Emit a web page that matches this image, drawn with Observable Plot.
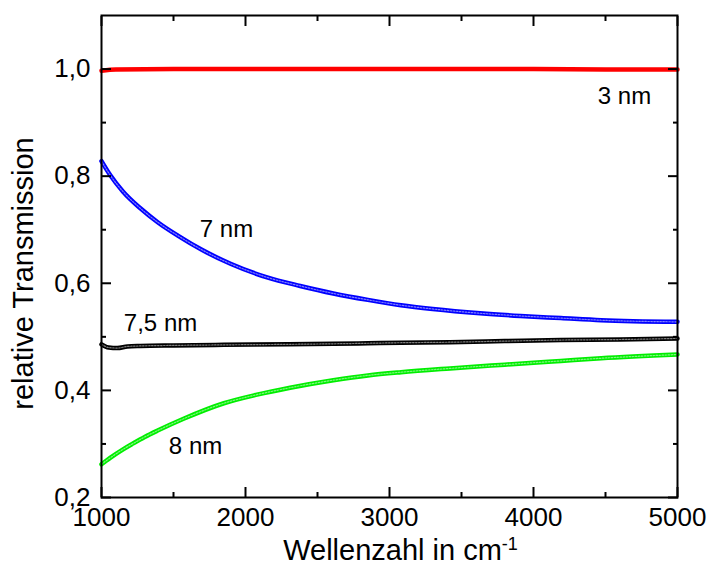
<!DOCTYPE html>
<html><head><meta charset="utf-8">
<script src="https://cdn.jsdelivr.net/npm/d3@7"></script>
<script src="https://cdn.jsdelivr.net/npm/@observablehq/plot@0.6"></script>
<style>body{margin:0;background:#fff} svg{display:block}</style>
</head><body><div id="chart"></div>
<script>
// Series: relative transmission vs wavenumber (cm^-1)
const w3 = [1000, 1100, 1500, 2000, 3000, 4000, 4500, 5000];
const t3 = [0.997, 0.999, 1.000, 1.000, 1.000, 1.000, 0.999, 0.999];

const w7 = [1000, 1060, 1150, 1270, 1390, 1530, 1700, 1900, 2150, 2380, 2610, 2850, 3080, 3300, 3630, 3910, 4190, 4470, 5000];
const t7 = [0.828, 0.802, 0.771, 0.740, 0.714, 0.689, 0.662, 0.636, 0.611, 0.595, 0.581, 0.569, 0.559, 0.552, 0.544, 0.539, 0.535, 0.531, 0.528];

const w75 = [1000, 1050, 1110, 1180, 1270, 1500, 1850, 2300, 2610, 2850, 3080, 3420, 3800, 4190, 4600, 5000];
const t75 = [0.486, 0.480, 0.479, 0.482, 0.483, 0.484, 0.485, 0.486, 0.487, 0.488, 0.489, 0.490, 0.492, 0.494, 0.495, 0.497];

const w8 = [1000, 1060, 1150, 1220, 1300, 1390, 1570, 1850, 2080, 2310, 2610, 2850, 3080, 3420, 3800, 4190, 4470, 5000];
const t8 = [0.262, 0.274, 0.290, 0.301, 0.313, 0.325, 0.347, 0.376, 0.392, 0.405, 0.419, 0.428, 0.434, 0.441, 0.448, 0.455, 0.460, 0.467];

const seriesNames = ["3 nm", "7 nm", "7,5 nm", "8 nm"];
const seriesColors = ["#ff0000", "#0000ff", "#000000", "#00ee00"];

// Series labels placed on the chart
const labelText = ["3 nm", "7 nm", "7,5 nm", "8 nm"];
const labelW = [4632, 1868, 1410, 1653];
const labelT = [0.9495, 0.701, 0.525, 0.295];

// Axis ticks
const xMajor = [1000, 2000, 3000, 4000, 5000];
const xMinor = [1500, 2500, 3500, 4500];
const yMajor = [0.2, 0.4, 0.6, 0.8, 1.0];
const yMinor = [0.3, 0.5, 0.7, 0.9];
const xTitle = "Wellenzahl in cm";
const xTitleSup = "-1";
const yTitle = "relative Transmission";

const allW = [w3, w7, w75, w8];
const allT = [t3, t7, t75, t8];
const rows = seriesNames.map((s, i) => allW[i].map((w, j) => ({series: s, w, t: allT[i][j]})));
const labels = labelText.map((t, i) => ({t, w: labelW[i], v: labelT[i]}));

const fmt = d => d.toFixed(1).replace(".", ",");
const blank = () => "";
const font = "'Liberation Sans', Arial, Helvetica, sans-serif";

const marks = [];
rows.forEach((r, i) => {
  marks.push(Plot.line(r, {x: "w", y: "t", stroke: seriesColors[i], strokeWidth: 4.5, curve: "monotone-x"}));
  if (i > 0) marks.push(Plot.line(r, {x: "w", y: "t", stroke: "white", strokeWidth: 1.2, strokeOpacity: 0.5, strokeDasharray: "1.5 1.5", curve: "monotone-x"}));
});

const chart = Plot.plot({
  width: 707, height: 573,
  marginLeft: 101, marginRight: 30, marginTop: 15, marginBottom: 76,
  style: {fontFamily: font, background: "white", color: "black"},
  x: {domain: [1000, 5000]},
  y: {domain: [0.2, 1.1]},
  marks: [
    ...marks,
    Plot.text(labels, {x: "w", y: "v", text: "t", fontSize: 24, fill: "black", textAnchor: "middle", lineAnchor: "middle"}),
    // inward ticks on all four sides
    Plot.axisX({anchor: "bottom", ticks: xMajor, tickSize: -10, strokeWidth: 2, tickFormat: blank, label: null}),
    Plot.axisX({anchor: "bottom", ticks: xMinor, tickSize: -5, strokeWidth: 2, tickFormat: blank, label: null}),
    Plot.axisX({anchor: "top", ticks: xMajor, tickSize: -10, strokeWidth: 2, tickFormat: blank, label: null}),
    Plot.axisX({anchor: "top", ticks: xMinor, tickSize: -5, strokeWidth: 2, tickFormat: blank, label: null}),
    Plot.axisY({anchor: "left", ticks: yMajor, tickSize: -10, strokeWidth: 2, tickFormat: blank, label: null}),
    Plot.axisY({anchor: "left", ticks: yMinor, tickSize: -5, strokeWidth: 2, tickFormat: blank, label: null}),
    Plot.axisY({anchor: "right", ticks: yMajor, tickSize: -10, strokeWidth: 2, tickFormat: blank, label: null}),
    Plot.axisY({anchor: "right", ticks: yMinor, tickSize: -5, strokeWidth: 2, tickFormat: blank, label: null}),
    // tick labels
    Plot.axisX({anchor: "bottom", ticks: xMajor, tickSize: 0, tickPadding: 10, fontSize: 26, tickFormat: d => String(d), label: null}),
    Plot.axisY({anchor: "left", ticks: yMajor, tickSize: 0, tickPadding: 11, fontSize: 26, tickFormat: fmt, label: null}),
    Plot.frame({stroke: "black", strokeWidth: 2}),
    Plot.text([xTitle], {frameAnchor: "bottom", text: d => d, dx: 11, dy: 53, fontSize: 29, textAnchor: "middle", lineAnchor: "middle", fill: "black"}),
    Plot.text([yTitle], {frameAnchor: "left", text: d => d, rotate: -90, dx: -78, dy: 17, fontSize: 29, textAnchor: "middle", lineAnchor: "middle", fill: "black"})
  ]
});

d3.select(chart).selectAll("text")
  .filter(function() { return this.textContent === xTitle; })
  .append("tspan").attr("baseline-shift", "super").attr("font-size", "0.62em").text(xTitleSup);

document.getElementById("chart").appendChild(chart);
</script>
</body></html>
